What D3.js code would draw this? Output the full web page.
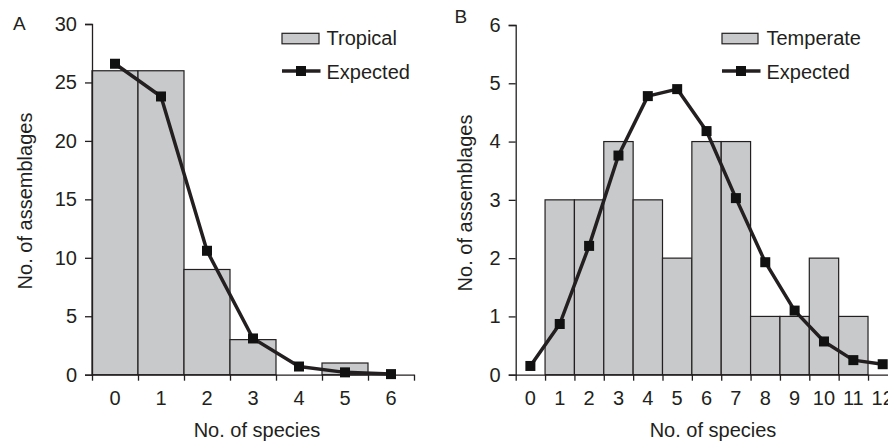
<!DOCTYPE html>
<html>
<head>
<meta charset="utf-8">
<script src="https://cdn.jsdelivr.net/npm/d3@7"></script>
<style>
  html, body { margin: 0; padding: 0; background: #fff; }
  svg { display: block; }
  text { font-family: "Liberation Sans", Arial, sans-serif; fill: #231f20; }
</style>
</head>
<body>
<svg id="chart" width="888" height="446"></svg>
<script>
// ---- Data ----
const tropicalSpecies = [0, 1, 2, 3, 4, 5, 6];
const tropicalObserved = [26, 26, 9, 3, 0, 1, 0];
const tropicalExpected = [26.6, 23.8, 10.6, 3.1, 0.7, 0.2, 0.05];
const tropicalYTicks = [0, 5, 10, 15, 20, 25, 30];

const temperateSpecies = [0, 1, 2, 3, 4, 5, 6, 7, 8, 9, 10, 11, 12];
const temperateObserved = [0, 3, 3, 4, 3, 2, 4, 4, 1, 1, 2, 1, 0];
const temperateExpected = [0.15, 0.87, 2.21, 3.76, 4.78, 4.9, 4.18, 3.03, 1.93, 1.1, 0.57, 0.25, 0.18];
const temperateYTicks = [0, 1, 2, 3, 4, 5, 6];

const panelLetters = ["A", "B"];
const observedLabels = ["Tropical", "Temperate"];
const expectedLabel = "Expected";
const xTitle = "No. of species";
const yTitle = "No. of assemblages";

const svg = d3.select("#chart");
const FS = 20;
const INK = "#231f20";
const BAR = "#c8c9cb";

function panel(cfg) {
  const g = svg.append("g");
  const n = cfg.species.length;
  const x = d3.scaleBand().domain(cfg.species).range([cfg.x0, cfg.x0 + n * cfg.bw]).paddingInner(0).paddingOuter(0);
  const xEdge = d3.scaleLinear().domain([0, n]).range([cfg.x0, cfg.x0 + n * cfg.bw]);
  const y = d3.scaleLinear().domain([0, cfg.yMax]).range([cfg.yBottom, cfg.yTop]);

  // bars
  g.selectAll("rect.bar").data(cfg.species.map((s, i) => ({s, v: cfg.observed[i]})).filter(d => d.v > 0))
    .enter().append("rect")
    .attr("x", d => x(d.s)).attr("width", x.bandwidth())
    .attr("y", d => y(d.v)).attr("height", d => y(0) - y(d.v))
    .attr("fill", BAR).attr("stroke", INK).attr("stroke-width", 1.2);

  // y axis
  const ya = g.append("g").attr("transform", `translate(${cfg.x0},0)`)
    .call(d3.axisLeft(y).tickValues(cfg.yTicks).tickSize(7).tickPadding(8).tickFormat(d3.format("d")));
  ya.select(".domain").attr("stroke", INK).attr("stroke-width", 1.3);
  ya.selectAll(".tick line").attr("stroke", INK).attr("stroke-width", 1.3);
  ya.selectAll(".tick text").attr("font-size", FS).attr("font-family", "Liberation Sans, Arial, sans-serif").attr("fill", INK);

  // x axis: edge ticks
  const xa = g.append("g").attr("transform", `translate(0,${cfg.yBottom})`)
    .call(d3.axisBottom(xEdge).tickValues(d3.range(n + 1)).tickSize(6).tickSizeOuter(0).tickFormat(""));
  xa.select(".domain").attr("stroke", INK).attr("stroke-width", 1.3);
  xa.selectAll(".tick line").attr("stroke", INK).attr("stroke-width", 1.3);
  // x axis labels at centers
  const xl = g.append("g").attr("transform", `translate(0,${cfg.yBottom})`)
    .call(d3.axisBottom(x).tickSize(0).tickPadding(16));
  xl.select(".domain").remove();
  xl.selectAll(".tick text").attr("font-size", FS).attr("font-family", "Liberation Sans, Arial, sans-serif").attr("fill", INK);

  // expected line
  const line = d3.line().x((d, i) => x(cfg.species[i]) + x.bandwidth() / 2).y(d => y(d));
  g.append("path").datum(cfg.expected).attr("d", line)
    .attr("fill", "none").attr("stroke", INK).attr("stroke-width", 3.5).attr("stroke-linejoin", "round");
  const ms = 10;
  g.selectAll("rect.mk").data(cfg.expected).enter().append("rect")
    .attr("x", (d, i) => x(cfg.species[i]) + x.bandwidth() / 2 - ms / 2)
    .attr("y", d => y(d) - ms / 2).attr("width", ms).attr("height", ms)
    .attr("fill", "#111");

  // titles
  g.append("text").attr("x", cfg.xTitleX).attr("y", 437)
    .attr("text-anchor", "middle").attr("font-size", FS).text(xTitle);
  g.append("text").attr("transform", `translate(${cfg.yTitleX},${cfg.yTitleY}) rotate(-90)`)
    .attr("text-anchor", "middle").attr("font-size", FS).text(yTitle);
  g.append("text").attr("x", cfg.letterX).attr("y", cfg.letterY).attr("font-size", FS - 1).text(cfg.letter);

  // legend
  const lx = cfg.legendX;
  g.append("rect").attr("x", lx).attr("y", 33.3).attr("width", cfg.legendW).attr("height", 10.5)
    .attr("fill", BAR).attr("stroke", INK).attr("stroke-width", 1.2);
  g.append("text").attr("x", lx + 44.5).attr("y", 45).attr("font-size", FS).text(cfg.obsLabel);
  g.append("line").attr("x1", lx).attr("x2", lx + 38.5).attr("y1", 71).attr("y2", 71)
    .attr("stroke", INK).attr("stroke-width", 3.5);
  g.append("rect").attr("x", lx + 19 - ms / 2).attr("y", 71 - ms / 2).attr("width", ms).attr("height", ms).attr("fill", "#111");
  g.append("text").attr("x", lx + 44.5).attr("y", 78.5).attr("font-size", FS).text(expectedLabel);
}

panel({
  species: tropicalSpecies, observed: tropicalObserved, expected: tropicalExpected,
  yTicks: tropicalYTicks, yMax: 30, x0: 92, bw: 46, yTop: 24, yBottom: 374.7,
  xTitleX: 257, yTitleX: 32, yTitleY: 201, letter: panelLetters[0], letterX: 13, letterY: 30,
  legendX: 282, legendW: 37, obsLabel: observedLabels[0]
});
panel({
  species: temperateSpecies, observed: temperateObserved, expected: temperateExpected,
  yTicks: temperateYTicks, yMax: 6, x0: 515.7, bw: 29.36, yTop: 25, yBottom: 374.7,
  xTitleX: 713, yTitleX: 472, yTitleY: 203, letter: panelLetters[1], letterX: 454.5, letterY: 22.5,
  legendX: 722, legendW: 36, obsLabel: observedLabels[1]
});
</script>
</body>
</html>
